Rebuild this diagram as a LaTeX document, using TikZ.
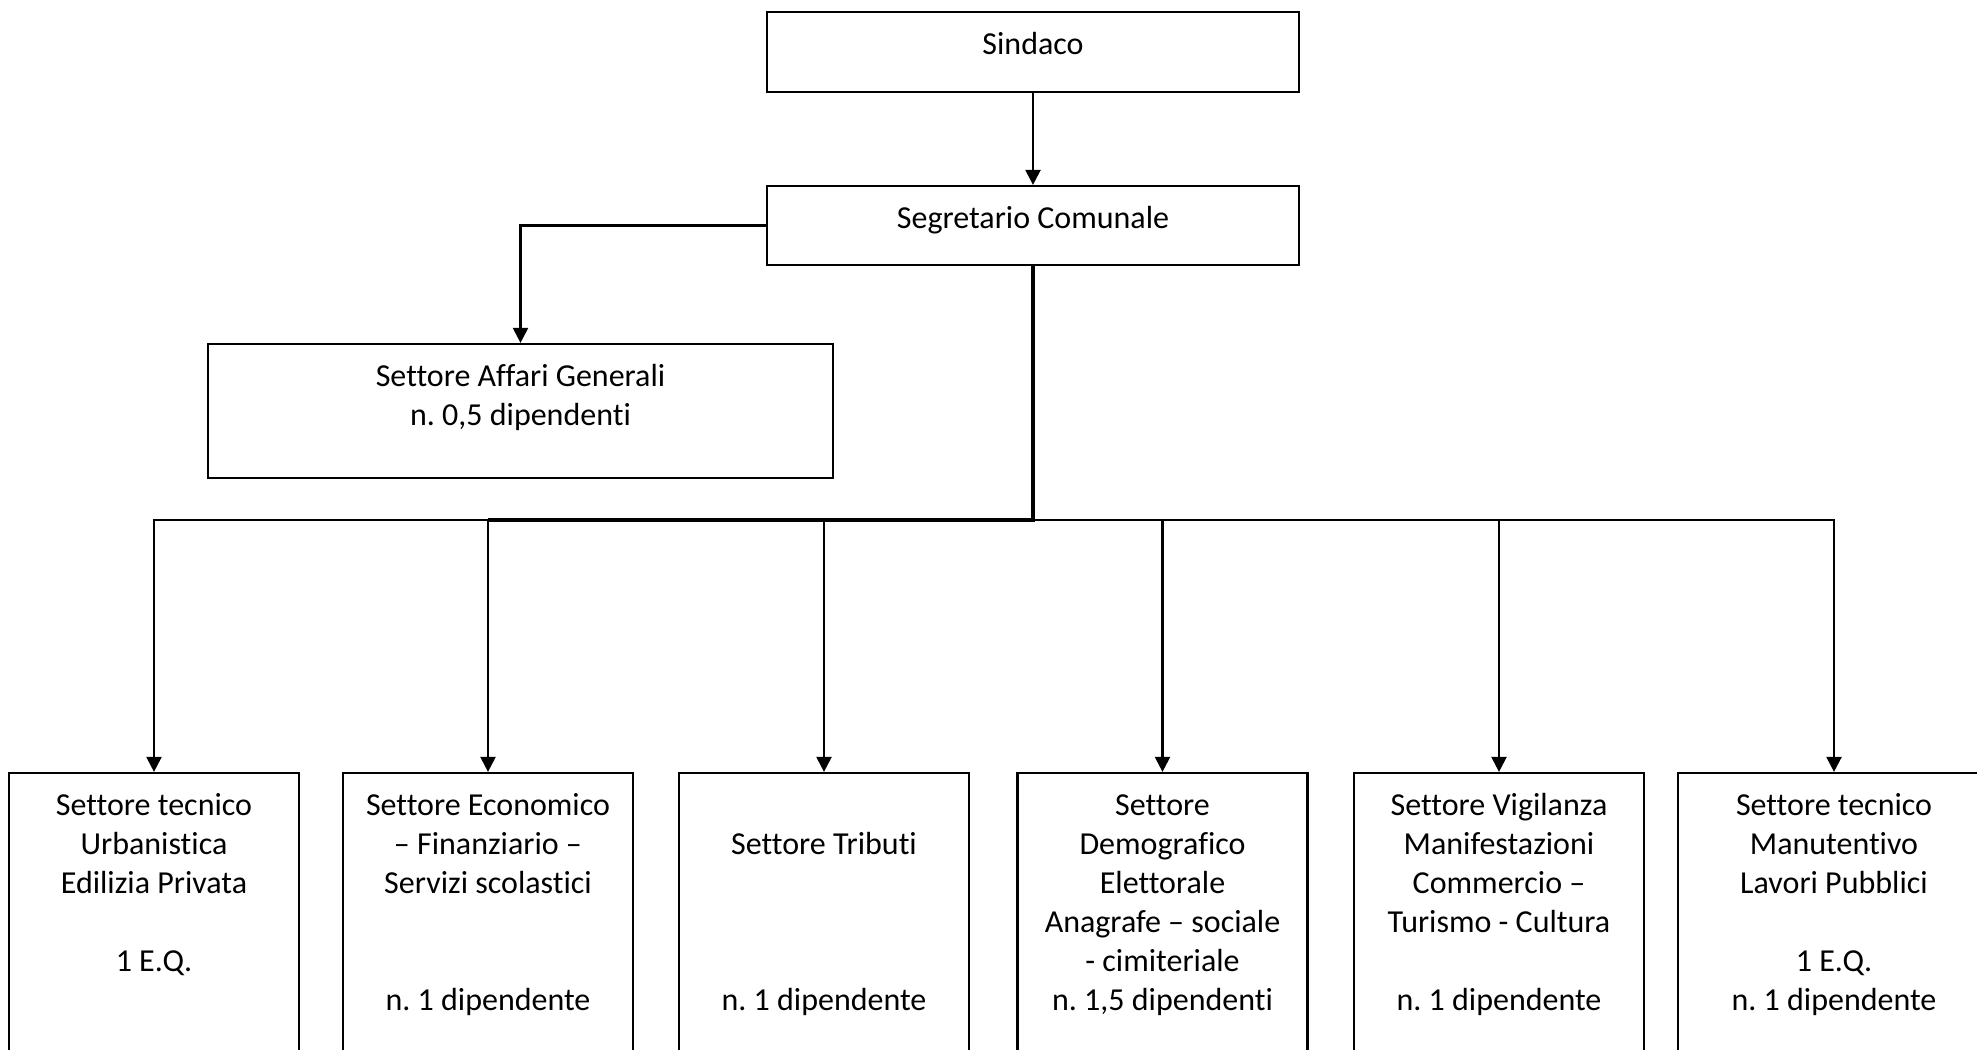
\documentclass[tikz,border=0pt]{standalone}
\usepackage{fontspec}
\setmainfont{Carlito}[Ligatures=NoCommon]
\usetikzlibrary{arrows.meta}
\frenchspacing
\begin{document}
\begin{tikzpicture}[x=0.5pt,y=-0.5pt,
  box/.style={draw, line width=1.1pt, inner sep=0pt},
  txt/.style={font=\fontsize{16pt}{19.5pt}\selectfont\frenchspacing, align=center, anchor=north, inner sep=0pt},
  conn/.style={line width=1.1pt},
  thickconn/.style={line width=2.2pt},
  arr/.style={conn, -{Triangle[width=7.5pt,length=7.5pt]}}]
\useasboundingbox (0,0) rectangle (1977,1050);
\clip (0,0) rectangle (1977,1050);
% boxes
\node[box, minimum width=266pt, minimum height=40pt] (sind) at (1033,52) {};
\node[box, minimum width=266pt, minimum height=39.5pt] (segr) at (1033,225.5) {};
\node[box, minimum width=312.5pt, minimum height=67pt] (aff) at (520.5,411) {};
\node[box, minimum width=145pt, minimum height=143.5pt] (b1) at (154,916.5) {};
\node[box, minimum width=145pt, minimum height=143.5pt] (b2) at (488,916.5) {};
\node[box, minimum width=145pt, minimum height=143.5pt] (b3) at (824,916.5) {};
\node[box, minimum width=145pt, minimum height=143.5pt] (b4) at (1162.5,916.5) {};
\node[box, minimum width=145pt, minimum height=143.5pt] (b5) at (1499,916.5) {};
\node[box, minimum width=156pt, minimum height=143.5pt] (b6) at (1834,916.5) {};
% texts
\node[txt] (tsind) at ([yshift=-7.85pt]sind.north) {\strut Sindaco};
\node[txt] (tsegr) at ([yshift=-7.85pt]segr.north) {\strut Segretario Comunale};
\node[txt] (taff) at ([yshift=-7.85pt]aff.north) {\strut Settore Affari Generali\\n. 0,5 dipendenti};
\node[txt] (t1) at ([yshift=-7.85pt]b1.north) {\strut Settore tecnico\\Urbanistica\\Edilizia Privata\\\strut\\1 E.Q.};
\node[txt] (t2) at ([yshift=-7.85pt]b2.north) {\strut Settore Economico\\– Finanziario –\\Servizi scolastici\\\strut\\\strut\\n. 1 dipendente};
\node[txt] (t3) at ([yshift=-7.85pt]b3.north) {\strut\\Settore Tributi\\\strut\\\strut\\\strut\\n. 1 dipendente};
\node[txt] (t4) at ([yshift=-7.85pt]b4.north) {\strut Settore\\Demografico\\Elettorale\\Anagrafe – sociale\\- cimiteriale\\n. 1,5 dipendenti};
\node[txt] (t5) at ([yshift=-7.85pt]b5.north) {\strut Settore Vigilanza\\Manifestazioni\\Commercio –\\Turismo - Cultura\\\strut\\n. 1 dipendente};
\node[txt] (t6) at ([yshift=-7.85pt]b6.north) {\strut Settore tecnico\\Manutentivo\\Lavori Pubblici\\\strut\\1 E.Q.\\n. 1 dipendente};
% connectors
\coordinate (bus) at (1033,520);
\draw[arr] (sind) -- (segr);
\draw[arr] (segr.west) -| (aff.north);
\draw[thickconn] (segr.south) -- (segr.south |- bus) -- (b2.north |- bus);
\draw[arr] (b2.north |- bus) -| (b1.north);
\draw[arr] (segr.south |- bus) -| (b6.north);
\foreach \b in {b2,b3,b4,b5}{\draw[arr] (\b.north |- bus) -- (\b.north);}
\end{tikzpicture}
\end{document}
